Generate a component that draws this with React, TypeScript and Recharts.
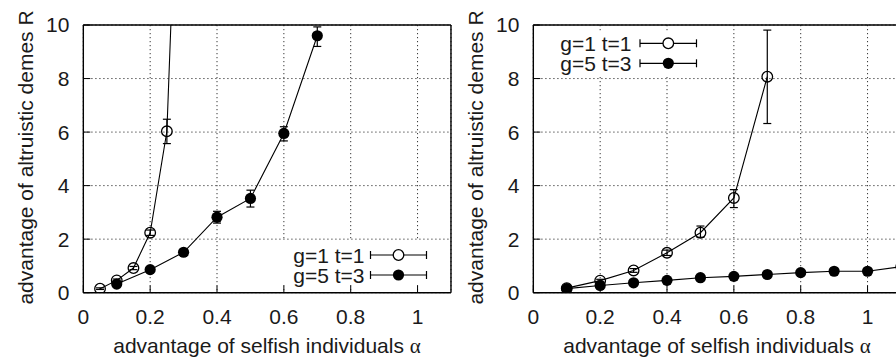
import React from "react"
import { LineChart, Line, XAxis, YAxis, CartesianGrid, ErrorBar } from "recharts"

// left panel
const leftOpenX = [0.05, 0.1, 0.15, 0.2, 0.25, 0.3]
const leftOpenY = [0.15, 0.46, 0.92, 2.24, 6.03, 22.7]
const leftOpenLo = [0.03, 0.05, 0.06, 0.1, 0.46, null]
const leftOpenHi = [0.03, 0.05, 0.06, 0.1, 0.45, null]

const leftFilledX = [0.1, 0.2, 0.3, 0.4, 0.5, 0.6, 0.7]
const leftFilledY = [0.32, 0.86, 1.51, 2.82, 3.52, 5.95, 9.6]
const leftFilledLo = [0.03, 0.05, 0.08, 0.22, 0.32, 0.28, 0.4]
const leftFilledHi = [0.03, 0.05, 0.08, 0.22, 0.31, 0.25, 0.33]

// right panel
const rightOpenX = [0.1, 0.2, 0.3, 0.4, 0.5, 0.6, 0.7]
const rightOpenY = [0.17, 0.45, 0.83, 1.49, 2.24, 3.54, 8.07]
const rightOpenLo = [0.03, 0.05, 0.07, 0.1, 0.17, 0.36, 1.75]
const rightOpenHi = [0.03, 0.05, 0.07, 0.1, 0.25, 0.31, 1.74]

const rightFilledX = [0.1, 0.2, 0.3, 0.4, 0.5, 0.6, 0.7, 0.8, 0.9, 1.0, 1.1]
const rightFilledY = [0.15, 0.27, 0.37, 0.46, 0.56, 0.61, 0.68, 0.75, 0.8, 0.8, 0.97]
const rightFilledLo = [0.02, 0.02, 0.03, 0.03, 0.03, 0.03, 0.03, 0.03, 0.03, 0.03, 0.03]
const rightFilledHi = [0.02, 0.02, 0.03, 0.03, 0.03, 0.03, 0.03, 0.03, 0.03, 0.03, 0.03]

const xMajor = [0, 0.2, 0.4, 0.6, 0.8, 1]
const xMinor = [0.1, 0.3, 0.5, 0.7, 0.9]
const yMajor = [0, 2, 4, 6, 8, 10]
const yMinor = [1, 3, 5, 7, 9]

const legendLabels = ["g=1 t=1", "g=5 t=3"]
const xTitle = "advantage of selfish individuals "
const yTitle = "advantage of altruistic demes R"

const FONT = "'Liberation Sans', Arial, Helvetica, sans-serif"
const INK = "#1a1a1a"
const THIN = 0.01 // axes with zero size are not drawn at all

type Row = { x: number; y: number; err: [number, number] | null }

const rows = (xs: number[], ys: number[], lo: (number | null)[], hi: (number | null)[]): Row[] =>
  xs.map((x, i) => ({
    x,
    y: ys[i],
    err: lo[i] == null || hi[i] == null ? null : [lo[i] as number, hi[i] as number],
  }))

const openDot = (p: any) => {
  if (p.value > 10 || p.cx == null) return <g key={`o${p.index}`} />
  return <circle key={`o${p.index}`} cx={p.cx} cy={p.cy} r={5.3} fill="none" stroke="#000" strokeWidth={1.3} />
}

const filledDot = (p: any) => {
  if (p.value > 10 || p.cx == null) return <g key={`f${p.index}`} />
  return <circle key={`f${p.index}`} cx={p.cx} cy={p.cy} r={5.6} fill="#000" />
}

const frame = { stroke: "#000", strokeWidth: 1.4 }
const tickStyle = { fill: INK, fontSize: 21, fontFamily: FONT }
const noLabel = () => ""

function Panel({ open, filled }: { open: Row[]; filled: Row[] }) {
  return (
    <LineChart width={460} height={359} margin={{ top: 25, right: 9, bottom: 66.3, left: 83.3 }}>
      <CartesianGrid stroke="#333" strokeWidth={1} strokeDasharray="1.2 2.8" />
      <XAxis
        type="number"
        dataKey="x"
        domain={[0, 1.1]}
        ticks={xMajor}
        interval={0}
        allowDataOverflow
        height={THIN}
        tickSize={-7}
        tickMargin={23.6}
        axisLine={frame}
        tickLine={{ stroke: "#000" }}
        tick={tickStyle}
      />
      <XAxis xAxisId="xm" type="number" domain={[0, 1.1]} ticks={xMinor} interval={0} height={THIN}
        tickSize={-4} axisLine={false} tickLine={{ stroke: "#000" }} tickFormatter={noLabel} />
      <XAxis xAxisId="xt" orientation="top" type="number" domain={[0, 1.1]} ticks={xMajor} interval={0} height={THIN}
        tickSize={-7} axisLine={frame} tickLine={{ stroke: "#000" }} tickFormatter={noLabel} />
      <XAxis xAxisId="xtm" orientation="top" type="number" domain={[0, 1.1]} ticks={xMinor} interval={0} height={THIN}
        tickSize={-4} axisLine={false} tickLine={{ stroke: "#000" }} tickFormatter={noLabel} />
      <YAxis
        type="number"
        domain={[0, 10]}
        ticks={yMajor}
        interval={0}
        allowDataOverflow
        width={THIN}
        tickSize={-7}
        tickMargin={21}
        axisLine={frame}
        tickLine={{ stroke: "#000" }}
        tick={tickStyle}
      />
      <YAxis yAxisId="ym" type="number" domain={[0, 10]} ticks={yMinor} interval={0} width={THIN}
        tickSize={-4} axisLine={false} tickLine={{ stroke: "#000" }} tickFormatter={noLabel} />
      <YAxis yAxisId="yr" orientation="right" type="number" domain={[0, 10]} ticks={yMajor} interval={0} width={THIN}
        tickSize={-7} axisLine={frame} tickLine={{ stroke: "#000" }} tickFormatter={noLabel} />
      <YAxis yAxisId="yrm" orientation="right" type="number" domain={[0, 10]} ticks={yMinor} interval={0} width={THIN}
        tickSize={-4} axisLine={false} tickLine={{ stroke: "#000" }} tickFormatter={noLabel} />
      <Line data={open} dataKey="y" stroke="#000" strokeWidth={1.1} dot={openDot} activeDot={false} isAnimationActive={false}>
        <ErrorBar dataKey="err" direction="y" width={4} stroke="#000" strokeWidth={1.2} />
      </Line>
      <Line data={filled} dataKey="y" stroke="#000" strokeWidth={1.1} dot={filledDot} activeDot={false} isAnimationActive={false}>
        <ErrorBar dataKey="err" direction="y" width={4} stroke="#000" strokeWidth={1.2} />
      </Line>
    </LineChart>
  )
}

function LegendRow({ textEnd, y, x1, x2, cx, label, filled }: {
  textEnd: number; y: number; x1: number; x2: number; cx: number; label: string; filled: boolean
}) {
  return (
    <g>
      <text x={textEnd} y={y + 7.5} textAnchor="end" fontSize={21} fontFamily={FONT} fill={INK}>{label}</text>
      <line x1={x1} x2={x2} y1={y} y2={y} stroke="#000" strokeWidth={1.2} />
      <line x1={x1} x2={x1} y1={y - 4} y2={y + 4} stroke="#000" strokeWidth={1.2} />
      <line x1={x2} x2={x2} y1={y - 4} y2={y + 4} stroke="#000" strokeWidth={1.2} />
      {filled
        ? <circle cx={cx} cy={y} r={5.6} fill="#000" />
        : <circle cx={cx} cy={y} r={5.3} fill="#fff" stroke="#000" strokeWidth={1.3} />}
    </g>
  )
}

function Titles({ dx }: { dx: number }) {
  return (
    <g>
      <text x={dx + 267} y={353} textAnchor="middle" fontSize={21} fontFamily={FONT} fill={INK}>
        {xTitle}<tspan fontFamily="'Liberation Serif', 'DejaVu Serif', serif">α</tspan>
      </text>
      <text
        x={dx + 33}
        y={157.5}
        transform={`rotate(-90 ${dx + 33} 157.5)`}
        textAnchor="middle"
        fontSize={21}
        fontFamily={FONT}
        fill={INK}
      >
        {yTitle}
      </text>
    </g>
  )
}

export default function App() {
  const lo = rows(leftOpenX, leftOpenY, leftOpenLo, leftOpenHi)
  const lf = rows(leftFilledX, leftFilledY, leftFilledLo, leftFilledHi)
  const ro = rows(rightOpenX, rightOpenY, rightOpenLo, rightOpenHi)
  const rf = rows(rightFilledX, rightFilledY, rightFilledLo, rightFilledHi)

  return (
    <div style={{ position: "fixed", left: 0, top: 0, width: 896, height: 359, overflow: "hidden", background: "#fff" }}>
      <div style={{ position: "absolute", left: 0, top: 0 }}>
        <Panel open={lo} filled={lf} />
      </div>
      <div style={{ position: "absolute", left: 450, top: 0 }}>
        <Panel open={ro} filled={rf} />
      </div>
      <svg width={896} height={359} style={{ position: "absolute", left: 0, top: 0, pointerEvents: "none" }}>
        <Titles dx={0} />
        <Titles dx={450} />
        {/* key boxes hide the grid behind them */}
        <rect x={281} y={241} width={158} height={43.5} fill="#fff" />
        <LegendRow textEnd={364.5} y={255} x1={370.5} x2={426.5} cx={398.5} label={legendLabels[0]} filled={false} />
        <LegendRow textEnd={364.5} y={275} x1={370.5} x2={426.5} cx={398.5} label={legendLabels[1]} filled />
        <rect x={553} y={33} width={152} height={44} fill="#fff" />
        <LegendRow textEnd={631.5} y={43.3} x1={640} x2={696.5} cx={668.3} label={legendLabels[0]} filled={false} />
        <LegendRow textEnd={631.5} y={63.3} x1={640} x2={696.5} cx={668.3} label={legendLabels[1]} filled />
      </svg>
    </div>
  )
}
